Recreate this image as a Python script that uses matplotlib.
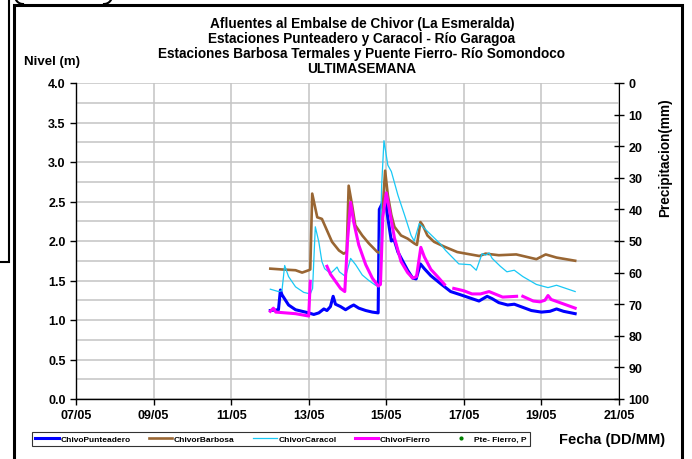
import numpy as np
import matplotlib
matplotlib.use('Agg')
import matplotlib.pyplot as plt
from matplotlib.patches import Rectangle
from matplotlib.lines import Line2D

plt.rcParams['font.family'] = ['Liberation Sans', 'DejaVu Sans']
plt.rcParams['font.weight'] = 'bold'

nan = np.nan

# tiempo en dias de mayo (dia.fraccion)
t_punteadero = [12.01, 12.22, 12.27, 12.31, 12.48, 12.66, 12.83, 13.0, 13.13, 13.26, 13.39, 13.47,
                13.56, 13.63, 13.69, 13.82, 13.95, 14.08, 14.16, 14.29, 14.47, 14.64, 14.79, 14.82,
                14.9, 14.97, 15.04, 15.13, 15.2, 15.3, 15.43, 15.55, 15.68, 15.77, 15.88, 15.98,
                16.15, 16.4, 16.66, 16.91, 17.21, 17.39, 17.6, 17.73, 17.9, 18.13, 18.3, 18.52,
                18.74, 19.0, 19.22, 19.39, 19.57, 19.87]
nivel_punteadero = [1.12, 1.13, 1.38, 1.32, 1.19, 1.13, 1.11, 1.09, 1.07, 1.09, 1.14, 1.12,
                    1.17, 1.30, 1.20, 1.17, 1.13, 1.17, 1.19, 1.15, 1.12, 1.10, 1.09, 2.40,
                    2.48, 2.56, 2.29, 2.00, 2.02, 1.86, 1.74, 1.63, 1.53, 1.52, 1.71, 1.65,
                    1.56, 1.46, 1.36, 1.32, 1.27, 1.24, 1.30, 1.27, 1.22, 1.19, 1.20, 1.16,
                    1.12, 1.10, 1.11, 1.14, 1.11, 1.08]

t_barbosa = [12.01, 12.3, 12.66, 12.83, 13.0, 13.04, 13.09, 13.22, 13.34, 13.6, 13.78, 13.9, 13.98,
             14.03, 14.12, 14.2, 14.38, 14.55, 14.77, 14.85, 14.92, 14.97, 15.04, 15.13, 15.21,
             15.38, 15.55, 15.72, 15.79, 15.88, 15.94, 16.06, 16.23, 16.49, 16.83, 17.17, 17.4,
             17.56, 17.9, 18.35, 18.87, 19.11, 19.39, 19.87]
nivel_barbosa = [1.65, 1.64, 1.63, 1.60, 1.63, 1.64, 2.60, 2.30, 2.28, 1.99, 1.88, 1.84, 1.86,
                 2.70, 2.45, 2.20, 2.07, 1.97, 1.86, 1.85, 2.50, 2.89, 2.58, 2.33, 2.18,
                 2.07, 2.03, 1.97, 1.95, 2.24, 2.20, 2.07, 1.99, 1.93, 1.86, 1.83, 1.81,
                 1.84, 1.82, 1.83, 1.77, 1.83, 1.79, 1.75]

t_caracol = [12.01, 12.22, 12.31, 12.38, 12.48, 12.66, 12.87, 13.04, 13.1, 13.17, 13.26, 13.34,
             13.41, 13.56, 13.65, 13.73, 13.79, 13.95, 14.08, 14.21, 14.38, 14.55, 14.72, 14.82,
             14.88, 14.94, 15.04, 15.13, 15.3, 15.47, 15.64, 15.72, 15.85, 15.94, 16.15, 16.4,
             16.53, 16.87, 17.17, 17.32, 17.47, 17.56, 17.65, 17.73, 17.94, 18.11, 18.3, 18.52,
             18.87, 19.17, 19.39, 19.57, 19.87]
nivel_caracol = [1.39, 1.36, 1.37, 1.69, 1.55, 1.42, 1.35, 1.33, 1.40, 2.18, 1.99, 1.74,
                 1.65, 1.59, 1.63, 1.67, 1.61, 1.55, 1.78, 1.70, 1.57, 1.50, 1.44, 1.42,
                 2.70, 3.27, 2.96, 2.88, 2.58, 2.33, 2.07, 2.00, 2.22, 2.18, 2.08, 1.96,
                 1.88, 1.71, 1.70, 1.63, 1.84, 1.82, 1.85, 1.78, 1.68, 1.61, 1.63, 1.55,
                 1.45, 1.41, 1.44, 1.41, 1.36]

t_fierro = [12.01, 12.09, 12.15, 12.66, 13.0, 13.04, 13.05, 13.47, 13.56, 13.69, 13.82, 13.93,
            14.0, 14.08, 14.16, 14.29, 14.47, 14.64, 14.79, 14.85, 14.91, 15.0, 15.09, 15.21,
            15.38, 15.55, 15.68, 15.78, 15.89, 15.98, 16.15, 16.32, 16.5, 16.6, 16.74, 17.0,
            17.21, 17.43, 17.65, 18.0, 18.36, 18.44, 18.52, 18.79, 18.96, 19.09, 19.17, 19.25,
            19.87]
nivel_fierro = [1.11, 1.15, 1.10, 1.08, 1.05, 1.49, nan, 1.68, 1.58, 1.49, 1.40, 1.36,
                2.00, 2.49, 2.24, 1.95, 1.70, 1.53, 1.43, 1.45, 2.30, 2.61, 2.37, 2.04,
                1.74, 1.60, 1.53, 1.55, 1.92, 1.80, 1.64, 1.55, 1.45, nan, 1.40, 1.37,
                1.33, 1.33, 1.36, 1.29, 1.30, nan, 1.30, 1.24, 1.23, 1.25, 1.31, 1.26,
                1.15]

# precipitacion Pte- Fierro (sin registros visibles)
t_precip = []
precip = []

dias_ticks = [7, 9, 11, 13, 15, 17, 19, 21]
etiquetas_x = ['%02d/05' % d for d in dias_ticks]

W, H = 692, 460
fig = plt.figure(figsize=(W / 100, H / 100), dpi=100)
ax = fig.add_axes([76 / W, 1 - 400 / H, (619 - 76) / W, (400 - 84) / H])

ax.set_xlim(7, 21)
ax.set_ylim(0, 4)
ax.set_xticks(dias_ticks)
ax.set_xticklabels(etiquetas_x)
ax.set_yticks(np.arange(0, 4.01, 0.5))
ax.set_yticklabels(['%.1f' % v for v in np.arange(0, 4.01, 0.5)])
ax.set_yticks(np.arange(0, 4.01, 0.25), minor=True)
ax.grid(True, which='both', axis='y', color='#c4c4c4', lw=1.1)
ax.grid(True, which='major', axis='x', color='#c4c4c4', lw=1.1)
ax.set_axisbelow(True)
ax.tick_params(axis='y', which='minor', length=0)
ax.tick_params(axis='both', which='major', labelsize=9, direction='out', length=4, width=1)
ax.tick_params(axis='x', pad=3)
ax.spines['top'].set_visible(False)
ax.spines['right'].set_visible(False)
for s in ['left', 'bottom']:
    ax.spines[s].set_linewidth(1)

l1, = ax.plot(t_punteadero, nivel_punteadero, color='#0000ff', lw=2.2, label='ChivoPunteadero')
l2, = ax.plot(t_barbosa, nivel_barbosa, color='#996633', lw=1.9, label='ChivorBarbosa')
l3, = ax.plot(t_caracol, nivel_caracol, color='#19c8f5', lw=0.9, label='ChivorCaracol')
l4, = ax.plot(t_fierro, nivel_fierro, color='#ff00ff', lw=2.2, label='ChivorFierro')

ax2 = ax.twinx()
ax2.set_ylim(100, 0)
ax2.set_yticks(range(0, 101, 10))
ax2.tick_params(axis='y', labelsize=9, direction='inout', length=7, width=1)
ax2.spines['top'].set_visible(False)
ax2.spines['left'].set_visible(False)
ax2.spines['bottom'].set_visible(False)
l5, = ax2.plot(t_precip, precip, 'o', color='#008000', ms=2, label='Pte- Fierro, P')

leg = fig.legend(handles=[l1, l2, l3, l4, l5], loc='lower left',
                 bbox_to_anchor=(32 / W, 1 - 447 / H, (530 - 32) / W, 16 / H),
                 mode='expand', ncol=5, fontsize=6, frameon=True, fancybox=False,
                 handlelength=2.8, handletextpad=0.2, borderaxespad=0, borderpad=0.4,
                 columnspacing=0.8)
leg.get_frame().set_edgecolor('black')
leg.get_frame().set_linewidth(0.8)
for txt in leg.get_texts():
    txt.set_fontweight('bold')

fig.text(362 / W, 1 - 17 / H,
         'Afluentes al Embalse de Chivor (La Esmeralda)\n'
         'Estaciones Punteadero y Caracol - Río Garagoa\n'
         'Estaciones Barbosa Termales y Puente Fierro- Río Somondoco\n'
         'ULTIMASEMANA',
         ha='center', va='top', fontsize=9.8, fontweight='bold', linespacing=1.1)
fig.text(52 / W, 1 - 62 / H, 'Nivel (m)', ha='center', va='center', fontsize=9.5, fontweight='bold')
fig.text(665 / W, 1 - 158 / H, 'Precipitacion(mm)', ha='center', va='center', rotation=90,
         fontsize=9.8, fontweight='bold')
fig.text(612 / W, 1 - 440 / H, 'Fecha (DD/MM)', ha='center', va='center', fontsize=10.5,
         fontweight='bold')

# marcos del area del grafico
fig.add_artist(Rectangle((14 / W, -0.1), (682 - 14) / W, 1.1 - 6 / H, transform=fig.transFigure,
                         fill=False, ec='black', lw=2.2, clip_on=False))
fig.add_artist(Rectangle((-0.1, 1 - 263 / H), 0.1 + 8.5 / W, 1.0, transform=fig.transFigure,
                         fill=False, ec='black', lw=1.5, clip_on=False))
# restos de un recuadro cortado arriba
ang = np.linspace(np.pi, 1.5 * np.pi, 12)
for cx, sgn in [(23, 1), (104, -1)]:
    xs = cx + sgn * 8 * np.cos(ang)
    ys = -3 - 8 * np.sin(ang)
    fig.add_artist(Line2D(xs / W, 1 - ys / H, transform=fig.transFigure, color='black', lw=1.5))

fig.savefig('out.png', dpi=100)
